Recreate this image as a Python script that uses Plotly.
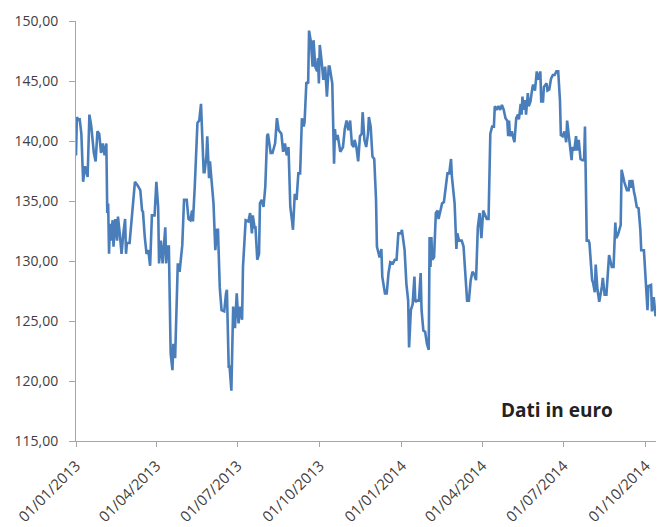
import plotly.graph_objects as go

dates = [
"2013-01-01","2013-01-02","2013-01-04","2013-01-05","2013-01-07","2013-01-09","2013-01-11","2013-01-14","2013-01-16","2013-01-18",
"2013-01-21","2013-01-23","2013-01-25","2013-01-27","2013-01-29","2013-01-31","2013-02-02","2013-02-04","2013-02-05","2013-02-06",
"2013-02-07","2013-02-08","2013-02-09","2013-02-11","2013-02-12","2013-02-14","2013-02-16","2013-02-17","2013-02-19","2013-02-21",
"2013-02-23","2013-02-25","2013-02-26","2013-02-27","2013-03-02","2013-03-05","2013-03-08","2013-03-11","2013-03-14","2013-03-16",
"2013-03-17","2013-03-19","2013-03-21","2013-03-23","2013-03-25","2013-03-27","2013-03-30","2013-04-01","2013-04-03","2013-04-04",
"2013-04-06","2013-04-08","2013-04-10","2013-04-11","2013-04-12","2013-04-13","2013-04-15","2013-04-17","2013-04-19","2013-04-20",
"2013-04-22","2013-04-23","2013-04-25","2013-04-27","2013-04-30","2013-05-02","2013-05-05","2013-05-07","2013-05-09","2013-05-11",
"2013-05-12","2013-05-14","2013-05-16","2013-05-17","2013-05-19","2013-05-21","2013-05-22","2013-05-24","2013-05-25","2013-05-27",
"2013-05-28","2013-05-30","2013-05-31","2013-06-02","2013-06-04","2013-06-06","2013-06-08","2013-06-09","2013-06-11","2013-06-13",
"2013-06-16","2013-06-18","2013-06-19","2013-06-21","2013-06-22","2013-06-24","2013-06-26","2013-06-28","2013-06-30","2013-07-02",
"2013-07-04","2013-07-06","2013-07-07","2013-07-10","2013-07-13","2013-07-15","2013-07-17","2013-07-18","2013-07-20","2013-07-21",
"2013-07-23","2013-07-25","2013-07-26","2013-07-28","2013-07-30","2013-08-01","2013-08-03","2013-08-04","2013-08-07","2013-08-09",
"2013-08-12","2013-08-14","2013-08-16","2013-08-19","2013-08-21","2013-08-23","2013-08-25","2013-08-27","2013-08-29","2013-08-31",
"2013-09-01","2013-09-03","2013-09-05","2013-09-07","2013-09-09","2013-09-11","2013-09-13","2013-09-14","2013-09-16","2013-09-18",
"2013-09-19","2013-09-21","2013-09-23","2013-09-24","2013-09-26","2013-09-28","2013-09-29","2013-09-30","2013-10-01","2013-10-03",
"2013-10-05","2013-10-07","2013-10-09","2013-10-11","2013-10-12","2013-10-15","2013-10-17","2013-10-18","2013-10-19","2013-10-21",
"2013-10-23","2013-10-24","2013-10-27","2013-10-29","2013-10-31","2013-11-02","2013-11-04","2013-11-06","2013-11-08","2013-11-09",
"2013-11-11","2013-11-13","2013-11-15","2013-11-17","2013-11-18","2013-11-20","2013-11-22","2013-11-24","2013-11-25","2013-11-27",
"2013-11-29","2013-12-01","2013-12-03","2013-12-04","2013-12-07","2013-12-09","2013-12-10","2013-12-13","2013-12-15","2013-12-17",
"2013-12-19","2013-12-22","2013-12-24","2013-12-26","2013-12-28","2013-12-31","2014-01-01","2014-01-03","2014-01-04","2014-01-06",
"2014-01-08","2014-01-09","2014-01-11","2014-01-13","2014-01-15","2014-01-16","2014-01-18","2014-01-20","2014-01-22","2014-01-23",
"2014-01-25","2014-01-27","2014-01-29","2014-01-31","2014-02-01","2014-02-02","2014-02-03","2014-02-04","2014-02-06","2014-02-08",
"2014-02-10","2014-02-11","2014-02-13","2014-02-15","2014-02-17","2014-02-19","2014-02-21","2014-02-23","2014-02-25","2014-02-26",
"2014-02-28","2014-03-01","2014-03-03","2014-03-04","2014-03-06","2014-03-09","2014-03-11","2014-03-13","2014-03-15","2014-03-17",
"2014-03-19","2014-03-21","2014-03-23","2014-03-25","2014-03-27","2014-03-29","2014-03-31","2014-04-02","2014-04-03","2014-04-06",
"2014-04-08","2014-04-10","2014-04-12","2014-04-14","2014-04-15","2014-04-17","2014-04-19","2014-04-21","2014-04-23","2014-04-25",
"2014-04-27","2014-04-29","2014-04-30","2014-05-01","2014-05-02","2014-05-04","2014-05-06","2014-05-07","2014-05-09","2014-05-11",
"2014-05-12","2014-05-14","2014-05-15","2014-05-16","2014-05-17","2014-05-19","2014-05-20","2014-05-22","2014-05-23","2014-05-25",
"2014-05-27","2014-05-28","2014-05-30","2014-06-01","2014-06-03","2014-06-05","2014-06-06","2014-06-08","2014-06-09","2014-06-12",
"2014-06-13","2014-06-15","2014-06-17","2014-06-19","2014-06-21","2014-06-23","2014-06-25","2014-06-27","2014-06-28","2014-06-30",
"2014-07-02","2014-07-04","2014-07-05","2014-07-07","2014-07-09","2014-07-10","2014-07-11","2014-07-13","2014-07-15","2014-07-16",
"2014-07-18","2014-07-20","2014-07-22","2014-07-24","2014-07-25","2014-07-27","2014-07-29",
"2014-07-30","2014-08-02","2014-08-03","2014-08-05","2014-08-06","2014-08-08","2014-08-10","2014-08-13","2014-08-14","2014-08-16",
"2014-08-18","2014-08-21","2014-08-24","2014-08-26","2014-08-28","2014-08-29","2014-08-31","2014-09-03","2014-09-04","2014-09-07",
"2014-09-10","2014-09-12","2014-09-13","2014-09-15","2014-09-16","2014-09-18","2014-09-19","2014-09-21","2014-09-23","2014-09-25",
"2014-09-26","2014-09-29","2014-10-01","2014-10-03","2014-10-04","2014-10-07","2014-10-08","2014-10-10","2014-10-12","2014-10-13",
"2014-10-15","2014-10-17","2014-10-19","2014-10-22",
]

prices = [
138.8,142.0,141.7,141.9,140.6,136.6,137.9,137.0,142.2,141.3,
139.0,138.3,140.8,140.6,139.0,139.8,138.8,139.8,134.0,134.8,
130.6,133.1,131.7,133.4,131.2,133.5,131.7,133.7,132.3,130.6,
132.3,133.5,130.6,131.5,131.5,134.0,136.6,136.3,135.9,134.2,
134.1,132.0,130.6,130.9,129.6,133.8,133.8,136.6,134.5,129.8,
131.7,129.8,131.7,132.8,129.8,131.2,131.2,122.3,120.9,123.1,
121.9,124.5,129.8,129.1,131.3,135.1,135.1,133.5,133.4,134.2,
133.3,136.2,139.0,141.5,141.7,143.1,141.2,137.4,137.4,138.7,
140.4,136.9,138.3,136.5,134.8,130.9,132.6,132.6,127.8,125.9,
125.8,127.3,127.6,121.2,121.2,119.2,126.2,124.4,127.3,124.8,
126.2,125.1,129.5,133.4,133.3,134.0,132.3,133.8,132.8,132.8,
130.1,130.6,134.8,135.1,134.5,136.2,140.4,140.6,139.0,139.0,
139.8,141.9,140.9,140.6,139.1,139.8,138.8,139.5,134.5,133.3,
132.6,135.6,135.1,137.3,137.3,141.9,141.2,141.6,144.9,144.8,
149.2,148.3,146.2,148.4,146.2,145.8,146.9,144.8,148.0,146.7,
145.1,146.2,143.7,146.2,146.2,144.8,138.1,141.0,140.1,140.5,
139.5,139.1,139.5,141.0,141.7,140.9,141.7,139.7,139.5,140.1,
139.5,138.3,140.4,140.6,142.4,140.1,139.5,140.6,142.0,141.2,
138.7,138.5,135.1,131.2,130.3,131.0,128.7,127.3,127.3,129.0,
129.9,129.8,130.1,130.1,132.3,132.3,132.6,131.2,130.9,128.1,
126.7,122.8,125.9,126.4,128.7,126.6,126.7,126.7,129.0,125.9,
124.2,124.1,123.1,122.6,132.0,129.5,132.0,130.1,130.3,134.0,
134.2,133.5,134.2,134.8,134.9,136.2,137.3,137.3,138.5,137.0,
135.3,134.8,131.0,132.3,131.7,131.7,131.2,128.7,126.7,126.7,
128.4,129.1,128.9,128.4,132.8,134.0,131.9,134.2,134.0,133.5,
133.5,140.6,141.2,141.2,142.9,142.6,142.9,142.6,143.0,142.6,
141.9,141.7,140.4,141.7,140.4,140.8,140.2,139.9,141.9,142.2,
141.8,143.1,142.2,143.7,142.6,143.4,142.2,144.0,142.9,143.3,
144.4,144.7,144.2,145.8,145.1,145.8,143.3,143.3,144.5,144.8,
144.2,144.3,145.2,145.5,145.5,145.8,145.8,143.4,140.5,140.4,
140.8,139.9,141.7,140.5,139.5,138.4,139.5,139.2,140.4,139.2,
140.1,138.5,138.4,138.4,141.2,131.7,131.7,
131.5,128.4,128.2,127.4,129.7,127.6,126.6,127.9,128.6,127.2,
127.2,130.5,129.5,129.5,133.2,131.9,132.2,133.0,137.6,136.6,
135.9,135.9,136.75,136.1,136.75,135.7,135.4,134.5,134.4,132.6,
130.9,130.9,128.8,125.9,127.9,128.0,125.8,127.0,125.4,125.7,
125.1,123.7,125.25,126.5,
]

tick_dates = ["2013-01-01","2013-04-01","2013-07-01","2013-10-01",
              "2014-01-01","2014-04-01","2014-07-01","2014-10-01"]
tick_labels = ["01/01/2013","01/04/2013","01/07/2013","01/10/2013",
               "01/01/2014","01/04/2014","01/07/2014","01/10/2014"]
y_ticks = [115,120,125,130,135,140,145,150]

fig = go.Figure()
fig.add_trace(go.Scatter(x=dates, y=prices, mode="lines",
                         line=dict(color="#4a7ebb", width=2.6),
                         showlegend=False, hoverinfo="x+y"))

fig.update_layout(
    width=656, height=519,
    margin=dict(l=68, r=0, t=13, b=86),
    paper_bgcolor="white", plot_bgcolor="white",
    separators=",.",
    font=dict(family="Open Sans, Liberation Sans, sans-serif", color="#404040", size=15),
    annotations=[dict(text="<b>Dati in euro</b>", x=0.818, y=0.074, xref="paper", yref="paper",
                      showarrow=False, xanchor="center", yanchor="middle",
                      font=dict(size=19, color="#222222", family="Open Sans, sans-serif"))],
)
fig.update_xaxes(type="date", range=["2013-01-01", "2014-10-21 12:00"],
                 tickvals=tick_dates, ticktext=tick_labels, tickangle=-45,
                 showgrid=False, zeroline=False, showline=True, linecolor="#a6a6a6", linewidth=1,
                 ticks="outside", ticklen=5, tickcolor="#a6a6a6", automargin=False,
                 ticklabelstandoff=4,
                 tickfont=dict(size=15, color="#404040"))
fig.update_yaxes(range=[115, 150], tickvals=y_ticks, tickformat=".2f",
                 showgrid=False, zeroline=False, showline=True, linecolor="#a6a6a6", linewidth=1,
                 ticks="outside", ticklen=6, tickcolor="#a6a6a6", automargin=False,
                 ticklabelstandoff=8,
                 tickfont=dict(size=14, color="#404040"))

fig.write_html("out.html")
